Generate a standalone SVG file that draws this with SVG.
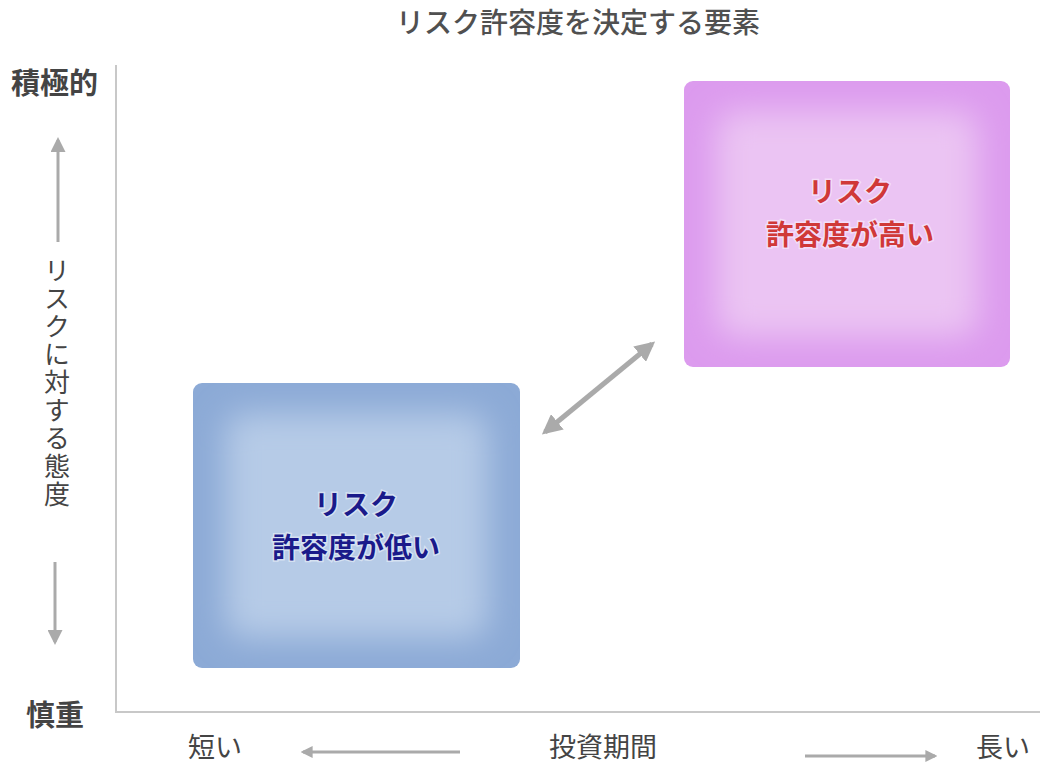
<svg xmlns="http://www.w3.org/2000/svg" width="1040" height="767" viewBox="0 0 1040 767">
<style>
text{font-family:"Noto Sans CJK JP","Noto Sans",sans-serif;}
.title{font-size:28px;fill:#505050;text-anchor:middle;font-weight:500;}
.axis{font-size:29px;fill:#444;font-weight:bold;}
.xl{font-size:27px;fill:#444;text-anchor:middle;}
.vt{font-size:26px;fill:#444;writing-mode:vertical-rl;letter-spacing:2px;}
.lbl{font-size:28px;text-anchor:middle;font-weight:bold;paint-order:stroke;stroke:#fff;stroke-opacity:0.45;stroke-width:3px;}
.arr{stroke:#aaa;stroke-width:3;fill:none;}
</style>
<defs>
<marker id="ah" viewBox="0 0 10 10" refX="8" refY="5" markerWidth="5" markerHeight="5" orient="auto-start-reverse"><path d="M0,0 L10,5 L0,10 z" fill="#aaa"/></marker>
<marker id="ah2" viewBox="0 0 10 10" refX="8" refY="5" markerWidth="4" markerHeight="4" orient="auto-start-reverse"><path d="M0,0 L10,5 L0,10 z" fill="#aaa"/></marker>
<filter id="blur" x="-20%" y="-20%" width="140%" height="140%"><feGaussianBlur stdDeviation="16"/></filter>
<clipPath id="cb"><rect x="193" y="383" width="327" height="285" rx="9"/></clipPath>
<clipPath id="cp"><rect x="684" y="81" width="326" height="286" rx="9"/></clipPath>
</defs>
<rect width="1040" height="767" fill="#fff"/>
<text class="title" x="578" y="33">リスク許容度を決定する要素</text>
<g id="axes">
<path d="M116,65 V712 H1040" stroke="#c8c8c8" stroke-width="2" fill="none"/>
</g>
<g id="ylabels">
<text class="axis" x="11" y="94">積極的</text>
<text class="axis" x="26" y="726">慎重</text>
<text class="vt" x="57" y="257">リスクに対する態度</text>
</g>
<g id="xlabels">
<text class="xl" x="215" y="757">短い</text>
<text class="xl" x="603" y="757">投資期間</text>
<text class="xl" x="1003" y="757">長い</text>
</g>
<g id="connectors">
<line class="arr" x1="58" y1="242" x2="58" y2="140" marker-end="url(#ah)"/>
<line class="arr" x1="55" y1="562" x2="55" y2="642" marker-end="url(#ah)"/>
<line class="arr" x1="460" y1="752" x2="303" y2="752" marker-end="url(#ah2)"/>
<line class="arr" x1="805" y1="756" x2="935" y2="756" marker-end="url(#ah2)"/>
<line x1="545" y1="432" x2="652" y2="344" stroke="#aaa" stroke-width="5" marker-start="url(#ah2)" marker-end="url(#ah2)"/>
</g>
<g id="low">
<rect x="193" y="383" width="327" height="285" rx="9" fill="#8caad6"/>
<g clip-path="url(#cb)"><rect x="225" y="413" width="263" height="225" rx="20" fill="#b6cbe7" filter="url(#blur)"/></g>
<text class="lbl" x="356" y="515" fill="#1a1a8a">リスク</text>
<text class="lbl" x="356" y="558" fill="#1a1a8a">許容度が低い</text>
</g>
<g id="high">
<rect x="684" y="81" width="326" height="286" rx="9" fill="#dc9bee"/>
<g clip-path="url(#cp)"><rect x="716" y="111" width="262" height="226" rx="20" fill="#ebc4f3" filter="url(#blur)"/></g>
<text class="lbl" x="850" y="202" fill="#d03838">リスク</text>
<text class="lbl" x="850" y="245" fill="#d03838">許容度が高い</text>
</g>
</svg>
